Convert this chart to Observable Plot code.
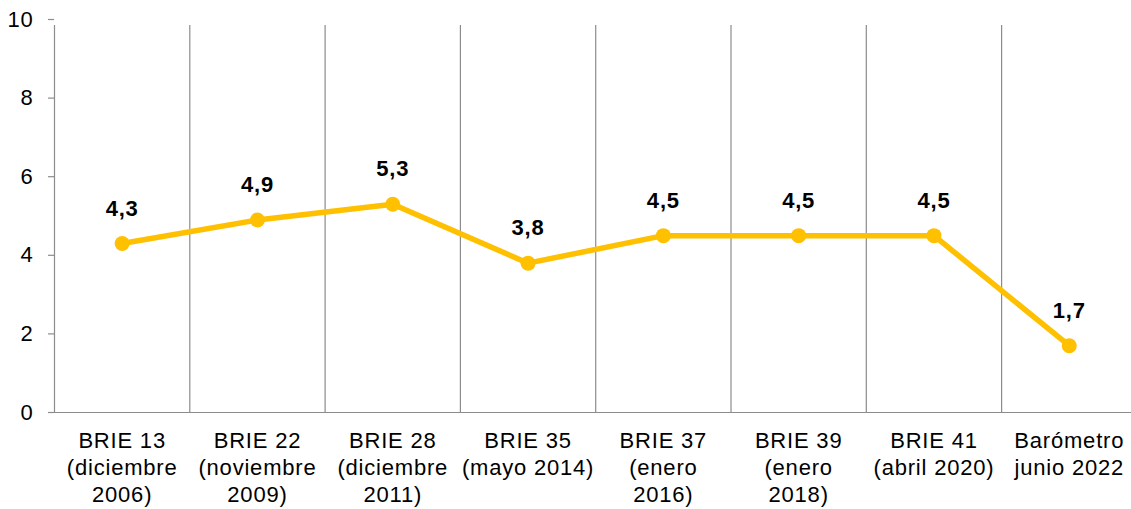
<!DOCTYPE html>
<html>
<head>
<meta charset="utf-8">
<script src="https://cdn.jsdelivr.net/npm/d3@7"></script>
<script src="https://cdn.jsdelivr.net/npm/@observablehq/plot@0.6"></script>
<style>
  html, body { margin: 0; padding: 0; background: #fff; }
  #chart { width: 1131px; height: 509px; overflow: hidden; }
  #chart svg text { letter-spacing: 0.8px; }
</style>
</head>
<body>
<div id="chart"></div>
<script>
const categories = [
  "BRIE 13\n(diciembre\n2006)",
  "BRIE 22\n(noviembre\n2009)",
  "BRIE 28\n(diciembre\n2011)",
  "BRIE 35\n(mayo 2014)",
  "BRIE 37\n(enero\n2016)",
  "BRIE 39\n(enero\n2018)",
  "BRIE 41\n(abril 2020)",
  "Barómetro\njunio 2022"
];
const values = [4.3, 4.9, 5.3, 3.8, 4.5, 4.5, 4.5, 1.7];
const yTicks = [0, 2, 4, 6, 8, 10];

const data = categories.map((c, i) => ({i, label: c, value: values[i]}));
const boundaries = d3.range(categories.length).map(i => i - 0.5);
const fmt = v => d3.format(".1f")(v).replace(".", ",");
const gray = "#8c8c8c";
const gold = "#FFC000";

const chart = Plot.plot({
  width: 1131,
  height: 509,
  marginLeft: 54,
  marginRight: 0,
  marginTop: 19,
  marginBottom: 97,
  style: {fontFamily: "'Liberation Sans', Arial, sans-serif", fontSize: "22px", color: "#000", background: "#fff", overflow: "visible"},
  x: {domain: [-0.5, 7.46], axis: null},
  y: {domain: [0, 10], axis: null},
  marks: [
    Plot.ruleX(boundaries, {x: d => d, y1: 0, y2: 10, stroke: gray, strokeWidth: 1.2, insetBottom: -6}),
    Plot.ruleY([0], {stroke: gray, strokeWidth: 1.2, x1: -0.5, x2: 7.46}),
    Plot.axisY({ticks: yTicks, tickSize: 6, tickPadding: 15, fontSize: 22, stroke: gray, strokeWidth: 1.2, label: null, tickFormat: d => String(d)}),
    Plot.line(data, {x: "i", y: "value", stroke: gold, strokeWidth: 5.5, curve: "linear"}),
    Plot.dot(data, {x: "i", y: "value", r: 7.5, fill: gold, stroke: "none"}),
    Plot.text(data, {x: "i", y: "value", text: d => fmt(d.value), dy: -35, fontSize: 22, fontWeight: "bold", fill: "#000"}),
    Plot.text(data, {x: "i", y: 0, text: "label", dy: 16, lineAnchor: "top", lineHeight: 1.227, fontSize: 22, fill: "#000"})
  ]
});
document.getElementById("chart").appendChild(chart);
</script>
</body>
</html>
